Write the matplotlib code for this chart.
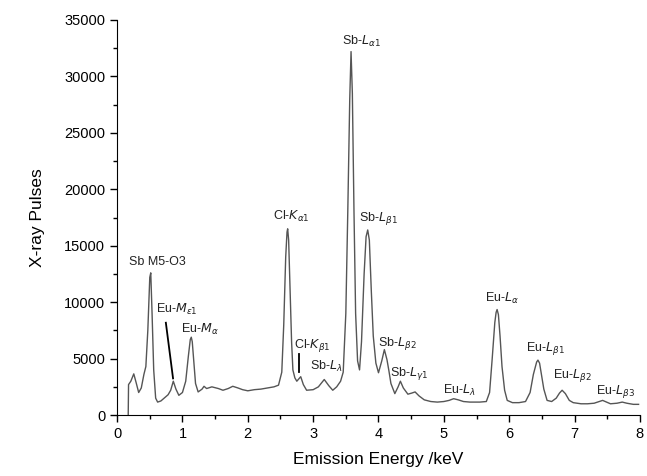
import matplotlib
matplotlib.use("Agg")
import matplotlib.pyplot as plt
from matplotlib.ticker import MultipleLocator

# spectrum (energy in keV, counts)
energy = [0.17, 0.175, 0.21, 0.255, 0.29, 0.33, 0.37, 0.41, 0.44, 0.47, 0.50, 0.515,
          0.535, 0.56, 0.59, 0.62, 0.67, 0.72, 0.78, 0.82, 0.86, 0.90, 0.945, 1.00,
          1.05, 1.09, 1.12, 1.135, 1.15, 1.17, 1.20, 1.24, 1.30, 1.33, 1.37, 1.45, 1.55, 1.62,
          1.70, 1.77, 1.85, 1.92, 2.0, 2.1, 2.2, 2.3, 2.4, 2.47, 2.52, 2.55, 2.58,
          2.60, 2.61, 2.625, 2.645, 2.67, 2.69, 2.72, 2.75, 2.78, 2.81, 2.85, 2.90, 3.0, 3.08,
          3.17, 3.24, 3.30, 3.36, 3.42, 3.46, 3.50, 3.53, 3.56, 3.58, 3.60, 3.625,
          3.65, 3.68, 3.71, 3.74, 3.78, 3.81, 3.835, 3.86, 3.89, 3.92, 3.96, 4.0, 4.05, 4.09,
          4.13, 4.16, 4.19, 4.25, 4.30, 4.335, 4.38, 4.45, 4.51, 4.56, 4.62, 4.70,
          4.80, 4.90, 5.0, 5.08, 5.15, 5.22, 5.30, 5.40, 5.55, 5.65, 5.70, 5.74,
          5.78, 5.80, 5.815, 5.835, 5.86, 5.89, 5.93, 5.97, 6.05, 6.15, 6.25, 6.32, 6.37,
          6.42, 6.44, 6.465, 6.49, 6.53, 6.58, 6.65, 6.72, 6.77, 6.81, 6.86, 6.92, 6.98,
          7.1, 7.2, 7.3, 7.38, 7.43, 7.49, 7.55, 7.65, 7.73, 7.8, 7.9, 7.98]
pulses = [0, 2700, 3000, 3650, 2900, 2000, 2400, 3600, 4300, 7500, 12200, 12600,
          9000, 4000, 1500, 1150, 1250, 1500, 1800, 2200, 3000, 2300, 1750, 2000,
          3000, 5200, 6700, 6900, 6500, 5000, 2800, 2050, 2300, 2550, 2350, 2500, 2350, 2200,
          2350, 2550, 2400, 2250, 2150, 2250, 2300, 2400, 2500, 2650, 3800, 8000, 14000,
          16200, 16500, 15500, 11500, 6500, 4000, 3300, 3000, 3200, 3400, 2700, 2200, 2250, 2500,
          3150, 2600, 2200, 2500, 3000, 3800, 9000, 18000, 28000, 32200, 28500, 18000,
          9000, 4800, 4000, 6500, 12500, 15800, 16400, 15500, 11000, 7000, 4600, 3750, 4800, 5800,
          4900, 3900, 2800, 1900, 2500, 3000, 2400, 1850, 1950, 2050, 1700, 1350,
          1200, 1150, 1200, 1300, 1450, 1350, 1200, 1150, 1150, 1200, 2000, 5000,
          8200, 9100, 9350, 8900, 7000, 4300, 2200, 1300, 1100, 1100, 1200, 2000, 3600,
          4700, 4870, 4600, 3700, 2300, 1300, 1200, 1500, 1950, 2200, 1900, 1300, 1100,
          1000, 1000, 1050, 1200, 1300, 1150, 1000, 1050, 1150, 1050, 950, 950]

# peak labels: text, x, y (centre)
labels = [r"Sb M5-O3", r"Eu-$M_{\varepsilon \mathit{1}}$", r"Eu-$M_{\alpha}$",
          r"Cl-$K_{\alpha \mathit{1}}$", r"Cl-$K_{\beta \mathit{1}}$", r"Sb-$L_{\lambda}$",
          r"Sb-$L_{\alpha \mathit{1}}$", r"Sb-$L_{\beta \mathit{1}}$", r"Sb-$L_{\beta \mathit{2}}$",
          r"Sb-$L_{\gamma \mathit{1}}$", r"Eu-$L_{\lambda}$", r"Eu-$L_{\alpha}$",
          r"Eu-$L_{\beta \mathit{1}}$", r"Eu-$L_{\beta \mathit{2}}$", r"Eu-$L_{\beta \mathit{3}}$"]
label_x = [0.61, 0.91, 1.27, 2.67, 2.99, 3.20, 3.74, 4.00, 4.29, 4.47, 5.23, 5.89, 6.55, 6.97, 7.62]
label_y = [13560, 9390, 7620, 17570, 6200, 4340, 33070, 17430, 6350, 3690, 2215, 10340, 5910, 3540, 2065]

plt.rcParams['mathtext.fontset'] = 'dejavusans'
plt.rcParams['font.family'] = ['Liberation Sans', 'DejaVu Sans']

fig = plt.figure(figsize=(6.47, 4.76), dpi=100)
ax = fig.add_axes([0.181, 0.128, 0.808, 0.830])

ax.plot(energy, pulses, color="#555555", lw=1.0, clip_on=False)

for t, x, y in zip(labels, label_x, label_y):
    ax.text(x, y, t, ha="center", va="center", fontsize=9, color="#222222")

# pointer lines
ax.plot([0.746, 0.856], [8180, 3250], color="black", lw=1.3)
ax.plot([2.79, 2.79], [5400, 3840], color="black", lw=1.3)

ax.set_xlim(0, 8)
ax.set_ylim(0, 35000)
ax.xaxis.set_major_locator(MultipleLocator(1))
ax.xaxis.set_minor_locator(MultipleLocator(0.5))
ax.yaxis.set_major_locator(MultipleLocator(5000))
ax.yaxis.set_minor_locator(MultipleLocator(2500))
ax.tick_params(which="major", length=5, width=1, labelsize=10.5, color="black")
ax.tick_params(which="minor", length=3, width=1)
ax.spines["top"].set_visible(False)
ax.spines["right"].set_visible(False)
ax.set_xlabel("Emission Energy /keV", fontsize=12.5, labelpad=8)
ax.set_ylabel("X-ray Pulses", fontsize=12.5, labelpad=14)

fig.savefig("out.png", dpi=100)
